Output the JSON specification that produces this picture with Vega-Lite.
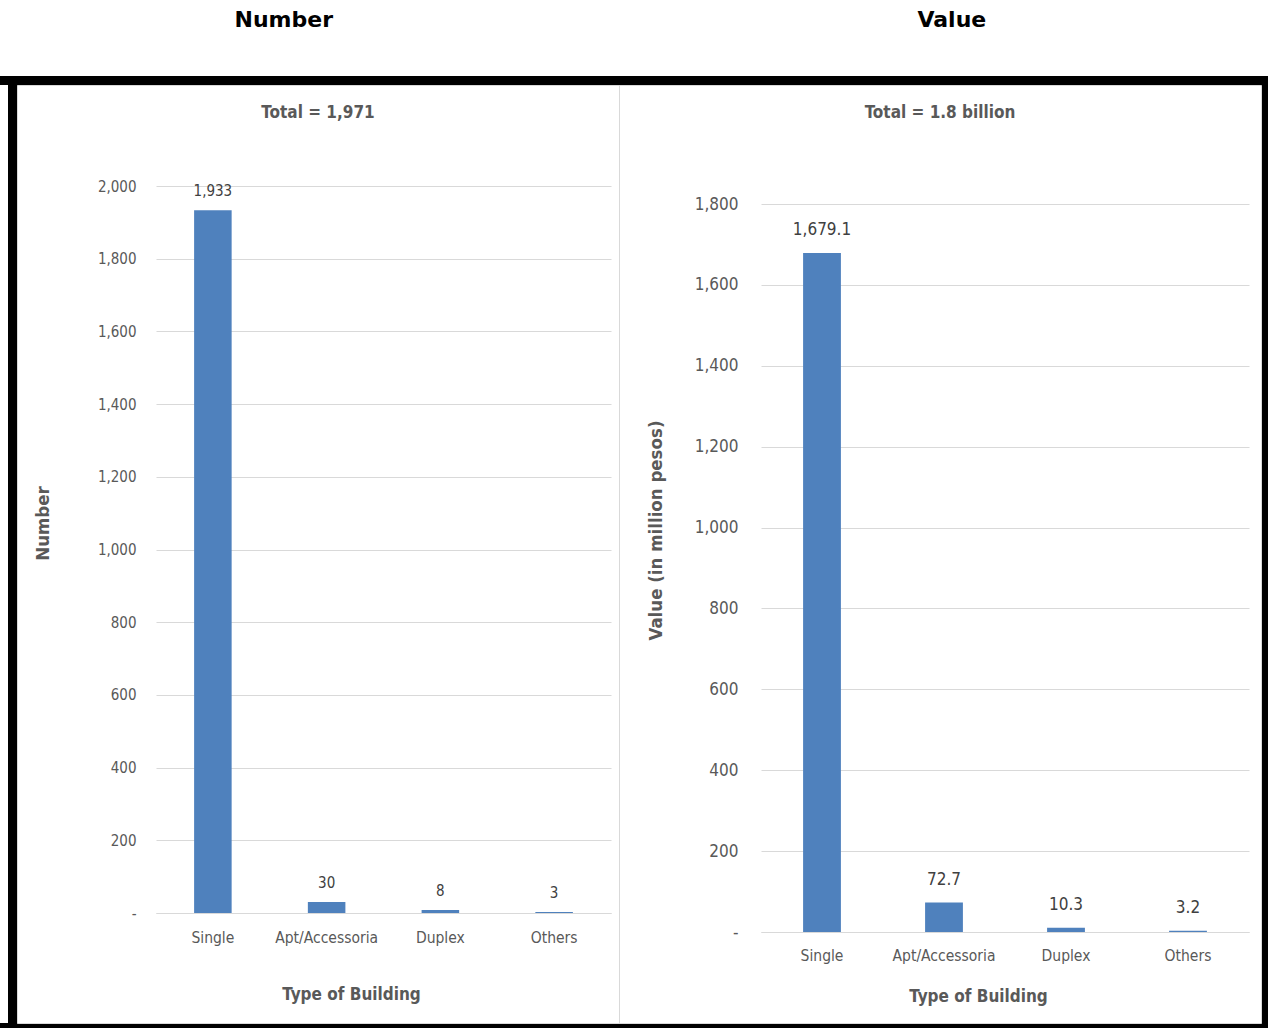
{
  "$schema": "https://vega.github.io/schema/vega-lite/v6.json",
  "background": "black",
  "padding": {"left": 0, "top": 0, "right": 0, "bottom": 6},
  "spacing": 8,
  "config": {
    "font": "DejaVu Sans Condensed, sans-serif",
    "axis": {
      "labelColor": "#595959",
      "titleColor": "#595959",
      "titleFontWeight": "bold",
      "gridColor": "#d9d9d9",
      "domainColor": "#d9d9d9",
      "ticks": false,
      "tickSize": 0
    },
    "title": {"color": "#595959", "fontWeight": "bold", "fontSize": 17, "frame": "group", "anchor": "middle"}
  },
  "vconcat": [
    {
      "width": 1268,
      "height": 76,
      "view": {"fill": "white", "stroke": null},
      "data": {"values": [{"heading": "Number"}, {"heading": "Value"}]},
      "mark": {"type": "text", "font": "DejaVu Sans", "fontWeight": "bold", "fontSize": 22, "color": "black", "dy": -18},
      "encoding": {
        "x": {"field": "heading", "type": "nominal", "sort": null,
              "scale": {"type": "point", "padding": 0.449, "align": 0.473}, "axis": null},
        "text": {"field": "heading"}
      }
    },
    {
      "spacing": 8,
      "hconcat": [
        {
          "width": 8,
          "height": 938,
          "view": {"fill": "white", "stroke": null},
          "data": {"values": [{"gap": ""}]},
          "mark": {"type": "text"},
          "encoding": {"text": {"field": "gap"}}
        },
        {
          "spacing": 0,
          "bounds": "flush",
          "hconcat": [
            {
              "width": 602,
              "height": 938,
              "view": {"fill": "white", "stroke": "#d9d9d9"},
              "title": {"text": "Total = 1,971", "offset": -37},
              "data": {"values": [
                {"type": "Single", "number": 1933},
                {"type": "Apt/Accessoria", "number": 30},
                {"type": "Duplex", "number": 8},
                {"type": "Others", "number": 3}
              ]},
              "encoding": {
                "x": {"field": "type", "type": "nominal", "sort": null,
                      "scale": {"range": [139, 594], "paddingInner": 0.67, "paddingOuter": 0.335},
                      "axis": {"title": "Type of Building", "offset": -110, "labelAngle": 0, "labelPadding": 17,
                               "labelFontSize": 15.5, "titleFontSize": 17, "titlePadding": 41,
                               "titleX": 334, "titleAnchor": null, "titleAlign": "center"}},
                "y": {"field": "number", "type": "quantitative",
                      "scale": {"domain": [0, 2000], "range": [828, 101], "nice": false},
                      "axis": {"title": "Number", "offset": -119, "domain": false, "labelPadding": 0,
                               "values": [0, 200, 400, 600, 800, 1000, 1200, 1400, 1600, 1800, 2000],
                               "labelExpr": "datum.value == 0 ? '-\u00a0\u00a0' : format(datum.value, ',')",
                               "labelFontSize": 15, "titleFontSize": 18.5,
                               "titleX": -94, "titleY": 438, "titleBaseline": "middle", "titleAngle": 270}}
              },
              "layer": [
                {"mark": {"type": "bar", "color": "#4f81bd"}},
                {"mark": {"type": "text", "baseline": "middle", "dy": -19, "fontSize": 15, "color": "#404040"},
                 "encoding": {"text": {"field": "number", "type": "quantitative", "format": ","}}}
              ]
            },
            {
              "width": 642,
              "height": 938,
              "view": {"fill": "white", "stroke": "#d9d9d9"},
              "title": {"text": "Total = 1.8 billion", "offset": -37},
              "data": {"values": [
                {"type": "Single", "value": 1679.1},
                {"type": "Apt/Accessoria", "value": 72.7},
                {"type": "Duplex", "value": 10.3},
                {"type": "Others", "value": 3.2}
              ]},
              "encoding": {
                "x": {"field": "type", "type": "nominal", "sort": null,
                      "scale": {"range": [142, 630], "paddingInner": 0.69, "paddingOuter": 0.345},
                      "axis": {"title": "Type of Building", "offset": -91, "labelAngle": 0, "labelPadding": 16,
                               "labelFontSize": 15.5, "titleFontSize": 17, "titlePadding": 25,
                               "titleX": 359, "titleAnchor": null, "titleAlign": "center"}},
                "y": {"field": "value", "type": "quantitative",
                      "scale": {"domain": [0, 1800], "range": [847, 119], "nice": false},
                      "axis": {"title": "Value (in million pesos)", "offset": -119, "domain": false, "labelPadding": 0,
                               "values": [0, 200, 400, 600, 800, 1000, 1200, 1400, 1600, 1800],
                               "labelExpr": "datum.value == 0 ? '-\u00a0\u00a0' : format(datum.value, ',')",
                               "labelFontSize": 17, "titleFontSize": 18.5,
                               "titleX": -83, "titleY": 445, "titleBaseline": "middle", "titleAngle": 270}}
              },
              "layer": [
                {"mark": {"type": "bar", "color": "#4f81bd"}},
                {"mark": {"type": "text", "baseline": "middle", "dy": -23, "fontSize": 17, "color": "#404040"},
                 "encoding": {"text": {"field": "value", "type": "quantitative", "format": ",.1f"}}}
              ]
            }
          ]
        }
      ]
    }
  ]
}
